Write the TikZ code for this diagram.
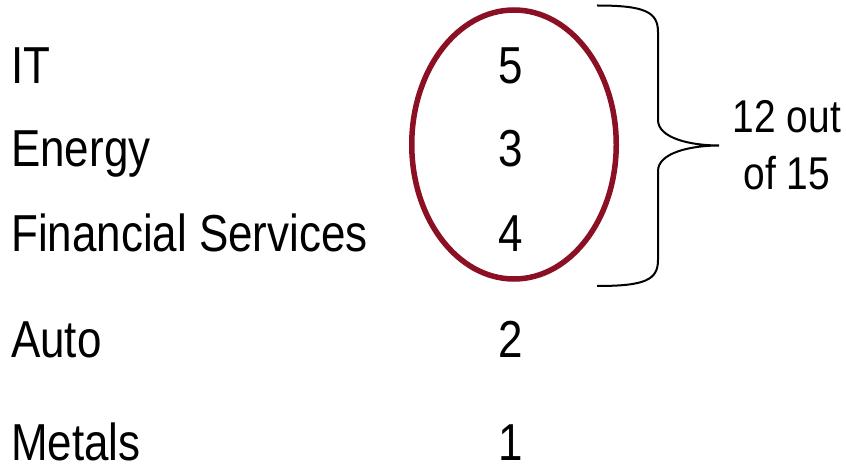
\documentclass[tikz,border=0pt]{standalone}
\usepackage{fontspec}
\setmainfont{Liberation Sans}[FakeStretch=0.845]
\usetikzlibrary{calc}
\definecolor{ovalred}{RGB}{139,16,36}
\tikzset{
  sector/.style={anchor=base west, inner sep=0pt, font=\fontsize{52}{60}\selectfont},
  count/.style={anchor=base, inner sep=0pt, font=\fontsize{52}{60}\selectfont},
  total/.style={align=center, inner sep=0pt, font=\fontsize{46}{57}\selectfont},
}
\begin{document}
\begin{tikzpicture}[x=1pt, y=-1pt]
			%%%%% START %%%%%
			\useasboundingbox[fill=white] (0, 0) rectangle (846, 470);
			
			\node[sector] (it) at (11, 84) {IT};
			\node[sector] (energy) at (11, 167) {Energy};
			\node[sector] (fin) at (11, 252) {Financial Services};
			\node[sector] (auto) at (11, 357) {Auto};
			\node[sector] (metals) at (11, 460) {Metals};
			
			\node[count] (nit) at (511, 84) {5};
			\node[count] (nenergy) at (511, 167) {3};
			\node[count] (nfin) at (511, 252) {4};
			\node[count] (nauto) at (511, 357) {2};
			\node[count] (nmetals) at (511, 460) {1};
			
			\draw[line width=5.5pt, color=ovalred] (514, 144.5) ellipse (102.25 and 134.5);
			
			\draw[line width=2pt] (597, 5.5) .. controls (645, 5.5) and (658, 12) .. (658, 32)
			  -- (658, 120) .. controls (658, 138) and (690, 145.5) .. (719, 145.5)
			  .. controls (690, 145.5) and (658, 153) .. (658, 171)
			  -- (658, 260) .. controls (658, 280) and (645, 286) .. (597, 286);
			
			\node[total] (share) at (787, 145) {12 out\\of 15};
			%%%%% END %%%%%
\end{tikzpicture}
\end{document}
